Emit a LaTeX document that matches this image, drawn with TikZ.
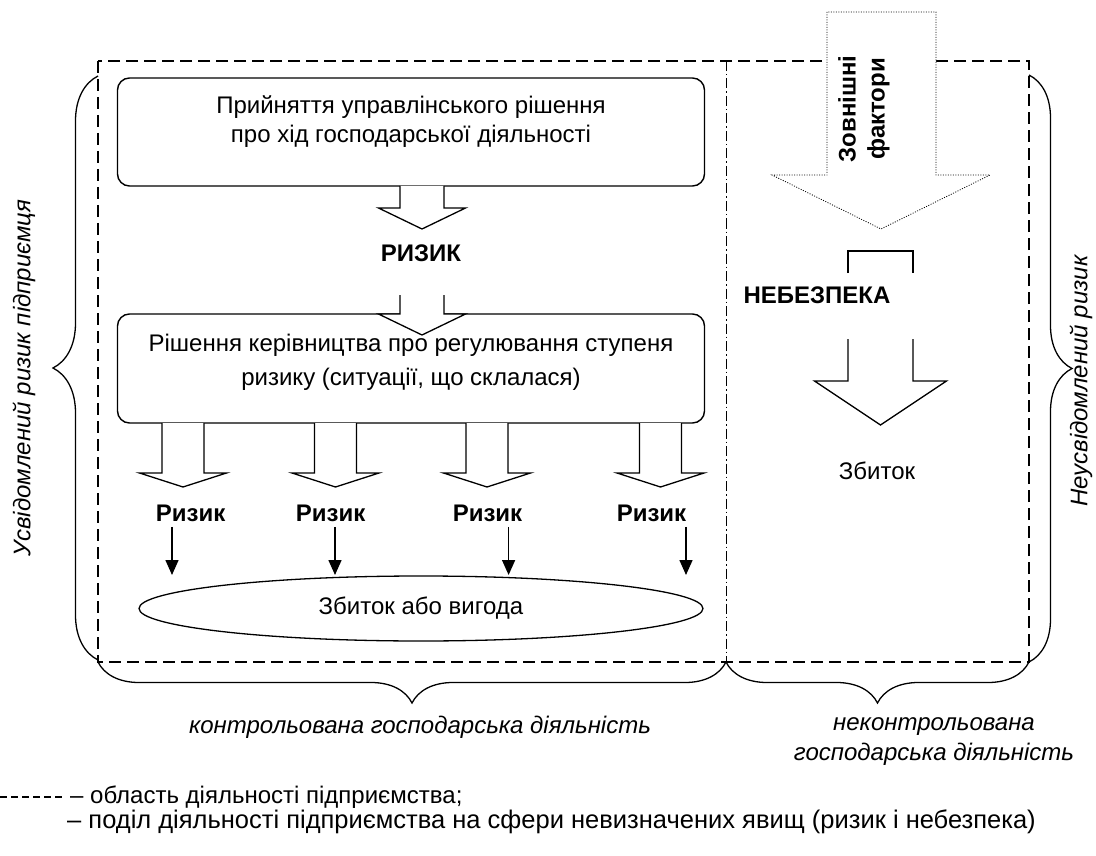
\documentclass[tikz,border=0pt]{standalone}
\usepackage{fontspec}
\setmainfont{Liberation Sans}
\usetikzlibrary{arrows.meta,shapes.geometric,positioning,calc,decorations.pathreplacing}

% block arrow: [style] x, y top, y head, y tip, half shaft, half head
\newcommand{\fatarrow}[7][]{%
  \draw[fatline,#1] (#2-#6,#3) -- (#2-#6,#4) -- (#2-#7,#4) -- (#2,#5)
    -- (#2+#7,#4) -- (#2+#6,#4) -- (#2+#6,#3);}

\begin{document}
\begin{tikzpicture}[
    x=1pt, y=-1pt,
    every node/.style={font=\fontsize{24}{29}\selectfont},
    frame/.style={rectangle, draw, rounded corners=12pt, line width=1.4pt, inner sep=0pt},
    fatline/.style={draw, fill=white, line width=1.3pt, line join=miter},
    arealine/.style={line width=1.2pt, dash pattern=on 12pt off 6pt},
    splitline/.style={line width=0.9pt, dash pattern=on 10pt off 3pt on 1.5pt off 3pt},
    factorline/.style={line width=0.8pt, dash pattern=on 1pt off 1.5pt},
    bracket/.style={decorate, line width=1.3pt},
    pointer/.style={-{Triangle[length=15pt,width=13pt]}, line width=1.5pt},
    bold/.style={font=\fontsize{24}{29}\selectfont\bfseries},
    slanted/.style={font=\fontsize{24}{30}\selectfont\itshape}
]
    \useasboundingbox (0,0) rectangle (1096,856);

    % area of the enterprise
    \draw[arealine] (98,61) rectangle (1029,662);
    \draw[splitline] (726,61) -- (726,662);

    % braces
    \draw[bracket, decoration={brace, amplitude=45pt}] (98,660) -- (98,76);
    \draw[bracket, decoration={brace, amplitude=43pt}] (1029,75) -- (1029,662);
    \draw[bracket, decoration={brace, amplitude=41pt}] (726,662) -- (98,662);
    \draw[bracket, decoration={brace, amplitude=41pt}] (1029,662) -- (726,662);

    % Nodes
    \node[frame, minimum width=587pt, minimum height=108pt] (decision) at (411,132) {};
    \node[align=center, below=15pt of decision.north] (decisiontxt)
        {Прийняття управлінського рішення\\про хід господарської діяльності};

    \node[bold] (risk) at (421,253) {РИЗИК};

    \node[frame, minimum width=587pt, minimum height=109pt] (control) at (411,368.5) {};
    \node[align=center, below=17pt of control.north] (controltxt)
        {Рішення керівництва про регулювання ступеня\\[5pt]ризику (ситуації, що склалася)};

    \node[ellipse, draw, line width=1.3pt, minimum width=564pt, minimum height=65pt, inner sep=0pt]
        (gain) at (421,608.5) {Збиток або вигода};

    % block arrows, left part
    \fatarrow{422}{186}{208}{229}{22}{43.5}
    \fatarrow{422}{295}{314}{335}{22}{43.5}
    \foreach \i/\x/\lx/\px in {1/183/190.6/172, 2/335.5/330.6/335, 3/487/487.5/508.6, 4/660.5/651.5/686}{
        \fatarrow{\x}{423}{473}{487}{21}{43.5}
        \node[bold] (risk\i) at (\lx,513) {Ризик};
        \coordinate (hit\i) at (\px,575);
        \draw[pointer] ([yshift=-2pt]hit\i |- risk\i.south) -- (hit\i);
    }

    % external factors
    \draw[factorline, fill=white] (827,12) -- (827,175) -- (772,175) -- (881,229)
        -- (990,175) -- (936,175) -- (936,12) -- cycle;
    \node[bold, rotate=90, align=center] (factors) at (864,109) {Зовнішні\\фактори};

    \draw[line width=1.3pt] (848,273) -- (848,251) -- (913,251) -- (913,273);
    \node[bold] (danger) at (817,295) {НЕБЕЗПЕКА};
    \fatarrow{880.5}{339}{381}{425}{32.5}{66}
    \node (loss) at (877,471) {Збиток};

    % side and bottom captions
    \node[slanted, rotate=90] (aware) at (24,378) {Усвідомлений ризик підприємця};
    \node[slanted, rotate=90] (unaware) at (1081,381) {Неусвідомлений ризик};
    \node[slanted] (controlled) at (420,727) {контрольована господарська діяльність};
    \node[slanted, align=center] (uncontrolled) at (934,742)
        {неконтрольована\\господарська діяльність};

    % legend
    \draw[line width=1.1pt, dash pattern=on 7pt off 4pt] (0,797) -- (64,797);
    \node[anchor=west, inner sep=0pt] (legend1) at (70,797) {– область діяльності підприємства;};
    \node[anchor=west, inner sep=0pt, font=\fontsize{25.5}{29}\selectfont] (legend2) at (67,822)
        {– поділ діяльності підприємства на сфери невизначених явищ (ризик і небезпека)};
\end{tikzpicture}
\end{document}
